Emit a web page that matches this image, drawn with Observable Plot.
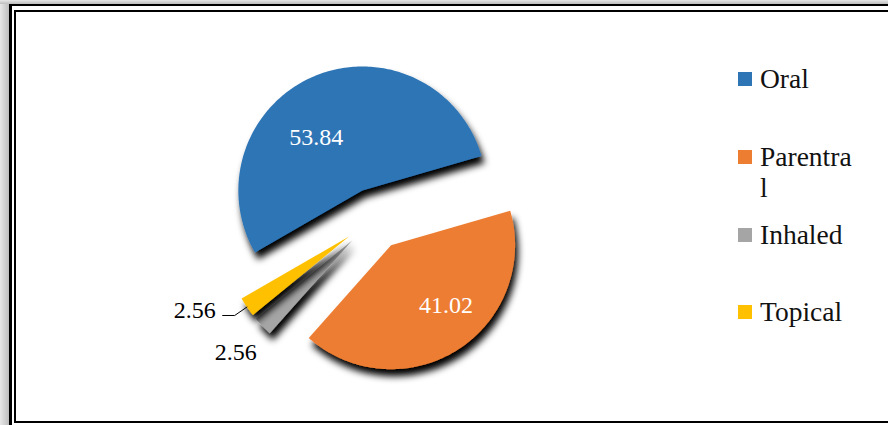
<!DOCTYPE html>
<html>
<head>
<meta charset="utf-8">
<script src="https://cdn.jsdelivr.net/npm/d3@7"></script>
<script src="https://cdn.jsdelivr.net/npm/@observablehq/plot@0.6"></script>
<style>
  html, body { margin: 0; padding: 0; background: #fff; }
  #wrap { position: relative; width: 888px; height: 425px; overflow: hidden; font-family: "Liberation Serif", "Times New Roman", serif; }
  #chart { position: absolute; left: 0; top: 0; }
  .fr { position: absolute; background: #000; }
  .legend { position: absolute; left: 738px; top: 0; font-size: 27.5px; color: #111; }
  .item { position: absolute; left: 0; width: 130px; }
  .sw { position: absolute; left: 0; width: 14px; height: 14px; }
  .lab { position: absolute; left: 22px; width: 97px; line-height: 31px; word-break: break-all; white-space: normal; }
</style>
</head>
<body>
<div id="wrap">
  <div style="position:absolute;left:0;top:0;width:9px;height:425px;background:linear-gradient(to right,#e8e8e8,#bdbdbd);"></div>
  <div style="position:absolute;left:0;top:0;width:888px;height:4px;background:linear-gradient(to bottom,#e8e8e8,#bdbdbd);"></div>
  <div id="chart"></div>
  <div class="fr" style="left:9px;top:4px;width:2.5px;height:421px;"></div>
  <div class="fr" style="left:9px;top:4px;width:879px;height:2px;"></div>
  <div class="fr" style="left:14px;top:10px;width:2px;height:413px;"></div>
  <div class="fr" style="left:14px;top:10px;width:874px;height:2px;"></div>
  <div class="fr" style="left:14px;top:421px;width:874px;height:2px;"></div>
  <div class="legend" id="legend"></div>
</div>
<script>
// ---- data ----
const categories = ["Oral", "Parentral", "Inhaled", "Topical"];
const values = [53.84, 41.02, 2.56, 2.56];
const labels = ["53.84", "41.02", "2.56", "2.56"];
const colors = ["#2E75B6", "#ED7D31", "#A5A5A5", "#FFC000"];

// ---- pie geometry (unit radius, compass angles clockwise from north) ----
const firstAngle = 240;
const explode = 0.25;
const total = d3.sum(values);
const rad = a => a * Math.PI / 180;
const pt = (cx, cy, r, a) => [cx + r * Math.sin(rad(a)), cy + r * Math.cos(rad(a))];

let cum = 0;
const slices = categories.map((c, i) => {
  const a0 = firstAngle + cum / total * 360;
  cum += values[i];
  const a1 = firstAngle + cum / total * 360;
  const mid = (a0 + a1) / 2;
  const [cx, cy] = pt(0, 0, explode, mid);
  return {c, i, a0, a1, mid, cx, cy};
});

const polyPts = [];
for (const s of slices) {
  polyPts.push({c: s.c, x: s.cx, y: s.cy});
  const n = Math.max(4, Math.ceil((s.a1 - s.a0) / 1));
  for (let k = 0; k <= n; k++) {
    const a = s.a0 + (s.a1 - s.a0) * k / n;
    const [x, y] = pt(s.cx, s.cy, 1, a);
    polyPts.push({c: s.c, x, y});
  }
}

// labels
const insideLab = [
  {s: slices[0], r: 0.6, dx: -17, dy: 15},
  {s: slices[1], r: 0.65, dx: 12, dy: -8}
].map(o => { const [x, y] = pt(o.s.cx, o.s.cy, o.r, o.s.mid); return {x, y, t: labels[o.s.i], dx: o.dx, dy: o.dy}; });

const sI = slices[2];
const [ix, iy] = pt(sI.cx, sI.cy, 1.3, sI.mid);
const inhLab = [{x: ix, y: iy, t: labels[2]}];

const sT = slices[3];
const [t0x, t0y] = pt(sT.cx, sT.cy, 1.0, sT.mid);
const [t1x, t1y] = pt(sT.cx, sT.cy, 1.12, sT.mid);
const leader = [{x: t0x, y: t0y}, {x: t1x, y: t1y}, {x: t1x - 0.097, y: t1y}];
const topLab = [{x: t1x - 0.097, y: t1y, t: labels[3]}];

const R = 124, CX = 374, CY = 218.5, W = 888, H = 425;
const serif = "'Liberation Serif', 'Times New Roman', serif";

const plot = Plot.plot({
  width: W, height: H,
  margin: 0,
  x: {domain: [-CX / R, (W - CX) / R], axis: null},
  y: {domain: [-(H - CY) / R, CY / R], axis: null},
  style: {background: "transparent", fontFamily: serif},
  marks: [
    Plot.line(polyPts, {x: "x", y: "y", z: "c", fill: d => colors[categories.indexOf(d.c)], stroke: "none", curve: "linear-closed"}),
    Plot.line(leader, {x: "x", y: "y", stroke: "#000", strokeWidth: 1}),
    Plot.text(insideLab, {x: "x", y: "y", text: "t", fill: "#fff", fontSize: 24, fontFamily: serif}),
    Plot.text(inhLab, {x: "x", y: "y", text: "t", fill: "#000", fontSize: 24, fontFamily: serif}),
    Plot.text(topLab, {x: "x", y: "y", text: "t", fill: "#000", fontSize: 24, fontFamily: serif, textAnchor: "end", dx: -7, dy: -5})
  ]
});
document.getElementById("chart").appendChild(plot);

// per-label offsets of inside labels
const txtGroups = plot.querySelectorAll('g[aria-label="text"]');
if (txtGroups[0]) {
  txtGroups[0].querySelectorAll("text").forEach((t, k) => {
    const tr = t.getAttribute("transform") || "";
    t.setAttribute("transform", tr + ` translate(${insideLab[k].dx},${insideLab[k].dy})`);
  });
}
plot.querySelectorAll("text").forEach(t => t.style.fontFamily = serif);

// drop shadows on slices
const ns = "http://www.w3.org/2000/svg";
const defs = document.createElementNS(ns, "defs");
defs.innerHTML = '<filter id="sh" x="-60%" y="-60%" width="220%" height="220%"><feDropShadow dx="3" dy="7" stdDeviation="3.5" flood-color="#000" flood-opacity="1"/></filter>';
plot.insertBefore(defs, plot.firstChild);
const sliceGroup = plot.querySelector('g[aria-label="line"]');
if (sliceGroup) sliceGroup.querySelectorAll("path").forEach(p => p.setAttribute("filter", "url(#sh)"));

// legend (HTML)
const legendTops = [72, 150, 228, 305];
const leg = document.getElementById("legend");
categories.forEach((c, i) => {
  const it = document.createElement("div");
  it.className = "item";
  it.style.top = legendTops[i] + "px";
  it.innerHTML = `<div class="sw" style="background:${colors[i]}"></div><div class="lab" style="top:-9px">${c}</div>`;
  leg.appendChild(it);
});
</script>
</body>
</html>
